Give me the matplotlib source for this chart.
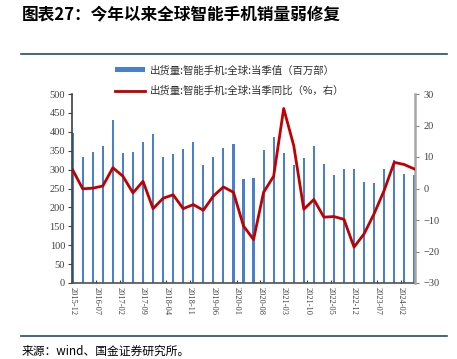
import matplotlib
matplotlib.use("Agg")
import matplotlib.pyplot as plt
from matplotlib.lines import Line2D
from matplotlib.patches import Patch
import numpy as np

plt.rcParams['font.family'] = ['Noto Sans CJK SC', 'DejaVu Sans']

# quarterly data 2015Q4 .. 2024Q2
shipments = [398, 333, 346, 362, 430, 344, 347, 373, 394, 334, 341, 354,
             374, 311, 333, 358, 368, 275, 277, 353, 386, 344, 312, 332,
             362, 314, 286, 301, 301, 268, 265, 302, 325, 288, 286]
yoy = [5.9, -0.1, 0.1, 0.8, 6.6, 3.9, -1.4, 2.3, -6.4, -3.1, -2.0, -6.4,
       -5.1, -6.9, -2.4, 0.5, -1.2, -11.9, -16.2, -1.2, 3.9, 25.4, 13.6, -6.6,
       -3.5, -9.1, -8.9, -9.8, -18.6, -14.4, -8.0, -0.6, 8.3, 7.6, 6.2]
tick_labels = ['2015-12', '2016-07', '2017-02', '2017-09', '2018-04', '2018-11',
               '2019-06', '2020-01', '2020-08', '2021-03', '2021-10', '2022-05',
               '2022-12', '2023-07', '2024-02']

title = '图表27：今年以来全球智能手机销量弱修复'
bar_label = '出货量:智能手机:全球:当季值（百万部）'
line_label = '出货量:智能手机:全球:当季同比（%，右）'
source = '来源：wind、国金证券研究所。'

# months since 2015-12
x = np.arange(len(shipments)) * 3
tick_pos = np.arange(len(tick_labels)) * 7

fig = plt.figure(figsize=(4.57, 3.59), dpi=100)
ax = fig.add_axes([72/457, 1-283/359, (415-72)/457, (283-94)/359])
ax2 = ax.twinx()

bar_color = '#4a7fcc'
line_color = '#c00000'
ax.bar(x, shipments, width=0.65, color=bar_color, zorder=2)
ax2.plot(x, yoy, color=line_color, lw=2, zorder=3)
ax.set_zorder(1)
ax2.set_zorder(2)
ax2.patch.set_visible(False)

ax.set_xlim(-0.2, 102.2)
ax.set_ylim(0, 500)
ax.set_yticks(np.arange(0, 501, 50))
ax2.set_ylim(-30, 30)
ax2.set_yticks(np.arange(-30, 31, 10))

ax.set_xticks(tick_pos)
ax.set_xticklabels(tick_labels, rotation=270, fontsize=6, family='Liberation Serif',
                   color='#404040')
for lab in ax.get_yticklabels():
    lab.set_family('Liberation Serif')
for lab in ax2.get_yticklabels():
    lab.set_family('Liberation Serif')
ax.tick_params(axis='y', labelsize=7.5, labelcolor='#404040', length=3, width=0.8,
               color='#404040', pad=2)
ax.tick_params(axis='x', direction='in', length=2.5, width=0.8, color='#404040', pad=3)
ax2.tick_params(axis='y', labelsize=7.5, labelcolor='#404040', length=3, width=0.8,
                color='#808080', pad=3)

for s in ['top']:
    ax.spines[s].set_visible(False)
    ax2.spines[s].set_visible(False)
ax.spines['right'].set_visible(False)
ax2.spines['left'].set_visible(False)
ax2.spines['bottom'].set_visible(False)
ax.spines['left'].set_color('#404040')
ax.spines['left'].set_linewidth(1.2)
ax.spines['bottom'].set_color('#505050')
ax.spines['bottom'].set_linewidth(1.2)
ax2.spines['right'].set_color('#a6a6a6')
ax2.spines['right'].set_linewidth(1.8)

handles = [Patch(facecolor=bar_color, edgecolor='none'),
           Line2D([0], [0], color=line_color, lw=2)]
leg = fig.legend(handles, [bar_label, line_label], loc='upper left',
                 bbox_to_anchor=(110/457, 1-60/359), frameon=False, fontsize=7.5,
                 handlelength=2.9, handleheight=0.3, handletextpad=0.4,
                 labelspacing=1.0, borderpad=0)
for t in leg.get_texts():
    t.set_color('#303030')

fig.text(22/457, 1-14/359, title, fontsize=12, fontweight='bold', va='center',
         ha='left', color='#000000')
fig.text(22/457, 1-351/359, source, fontsize=8.5, va='center', ha='left',
         color='#000000')

rule_color = '#1f4e79'
fig.add_artist(Line2D([21/457, 447/457], [1-54/359, 1-54/359], color=rule_color, lw=1.2))
fig.add_artist(Line2D([21/457, 447/457], [1-336/359, 1-336/359], color=rule_color, lw=1.2))

fig.savefig('out.png', dpi=100)
